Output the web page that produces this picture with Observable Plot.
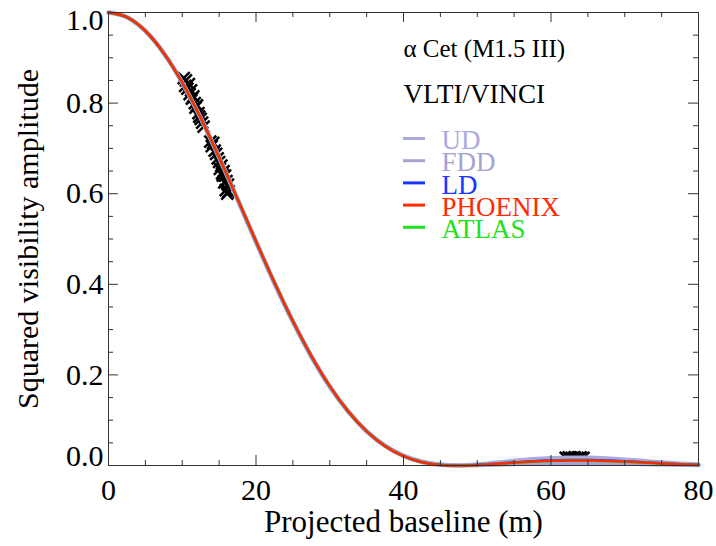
<!DOCTYPE html>
<html><head><meta charset="utf-8">
<script src="https://cdn.jsdelivr.net/npm/d3@7"></script>
<script src="https://cdn.jsdelivr.net/npm/@observablehq/plot@0.6"></script>
<style>
html,body{margin:0;padding:0;background:#fff}
#chart{width:716px;height:546px}
</style>
</head><body><div id="chart"></div>
<script>
// Model curves: projected baseline (m) and squared visibility
const baselineM = [0,2.5,5,7.5,10,12.5,15,17.5,20,22.5,25,27.5,30,32.5,35,37.5,40,42.5,45,47.5,50,52.5,55,57.5,60,62.5,65,67.5,70,72.5,75,77.5,80];
const udV2 = [1,0.9896,0.9592,0.9101,0.8449,0.7669,0.6796,0.5871,0.4932,0.4022,0.3171,0.2405,0.1740,0.1190,0.0755,0.0433,0.0212,0.0078,0.0014,0.0001,0.0021,0.0059,0.0101,0.0137,0.0162,0.0173,0.0169,0.0153,0.0128,0.0098,0.0068,0.0041,0.0021];
const fddV2 = [1,0.9897,0.9594,0.9104,0.8455,0.7680,0.6812,0.5890,0.4953,0.4042,0.3190,0.2422,0.1755,0.1200,0.0762,0.0438,0.0220,0.0088,0.0022,0.0001,0.0005,0.0016,0.0029,0.0041,0.0049,0.0053,0.0052,0.0047,0.0039,0.0030,0.0021,0.0013,0.0007];
const ldV2 = [1,0.9896,0.9592,0.9102,0.8452,0.7674,0.6803,0.5882,0.4944,0.4035,0.3184,0.2414,0.1746,0.1192,0.0754,0.0430,0.0209,0.0075,0.0013,0.0000,0.0013,0.0039,0.0068,0.0093,0.0111,0.0120,0.0119,0.0110,0.0093,0.0072,0.0050,0.0030,0.0015];
const phoenixV2 = [1,0.9896,0.9592,0.9102,0.8452,0.7675,0.6805,0.5885,0.4948,0.4040,0.3190,0.2420,0.1752,0.1195,0.0755,0.0428,0.0205,0.0072,0.0011,0.0000,0.0012,0.0036,0.0063,0.0087,0.0104,0.0112,0.0111,0.0102,0.0086,0.0066,0.0045,0.0027,0.0013];
const atlasV2 = [1,0.9896,0.9592,0.9102,0.8452,0.7675,0.6804,0.5884,0.4947,0.4039,0.3189,0.2419,0.1751,0.1194,0.0754,0.0428,0.0206,0.0073,0.0012,0.0000,0.0011,0.0035,0.0061,0.0084,0.0100,0.0108,0.0107,0.0098,0.0083,0.0064,0.0044,0.0026,0.0013];

// VLTI/VINCI measurements
const obsBaseline = [10.2,10.4,10.5,10.7,10.9,11.0,11.2,11.3,11.5,11.7,11.8,12.0,12.2,12.3,12.5,12.7,12.9,
  13.8,14.0,14.2,14.4,14.6,14.8,15.0,15.1,15.3,15.4,15.5,15.6,15.7,15.8,15.9,16.0,16.1,16.2,16.3,
  62.0,62.4,62.8,63.2,63.6,64.0,64.4];
const obsV2 = [0.855,0.838,0.850,0.832,0.842,0.820,0.828,0.810,0.815,0.800,0.790,0.795,0.778,0.770,0.765,0.757,0.748,
  0.715,0.705,0.712,0.695,0.688,0.678,0.670,0.655,0.662,0.645,0.640,0.650,0.625,0.640,0.608,0.628,0.600,0.620,0.605,
  0.017,0.018,0.017,0.018,0.017,0.018,0.017];

const models = ["UD","FDD","LD","PHOENIX","ATLAS"];
const modelColors = ["#aaaadd","#a4a4d2","#1a35ff","#ff2a00","#22e022"];
const xMajorTicks = [0,20,40,60,80];
const xMinorTicks = [5,10,15,25,30,35,45,50,55,65,70,75];
const yMajorTicks = [0,0.2,0.4,0.6,0.8,1.0];
const yMinorTicks = [0.05,0.1,0.15,0.25,0.3,0.35,0.45,0.5,0.55,0.65,0.7,0.75,0.85,0.9,0.95];

const W = 716, H = 546, mL = 108, mR = 18, mT = 12, mB = 81;
const pw = W - mL - mR, ph = H - mT - mB;

const table = (vals) => baselineM.map((b, i) => ({b, v: vals[i]}));
const obs = obsBaseline.map((b, i) => ({b, v: obsV2[i]}));
const font = "'Liberation Serif', 'Times New Roman', serif";
const axisStroke = "#333";
const yFmt = d3.format(".1f");

const lineOpts = (color, w) => ({x: "b", y: "v", stroke: color, strokeWidth: w, curve: "monotone-x"});
const yAxis = (ticks, dy) => Plot.axisY({ticks, tickSize: 0, tickPadding: 5, tickFormat: yFmt, label: null, fontSize: 30, dy});

const chart = Plot.plot({
  width: W, height: H,
  marginLeft: mL, marginRight: mR, marginTop: mT, marginBottom: mB,
  style: {fontFamily: font, fontSize: "26px", background: "#fff", color: "#000"},
  x: {domain: [0, 80]},
  y: {domain: [0, 1]},
  marks: [
    Plot.dot(obs, {x: "b", y: "v", symbol: "times", r: 5.5, stroke: "#000", strokeWidth: 2.5}),
    Plot.line(table(udV2), lineOpts(modelColors[0], 4.5)),
    Plot.line(table(fddV2), lineOpts(modelColors[1], 4)),
    Plot.line(table(ldV2), lineOpts(modelColors[2], 2.5)),
    Plot.line(table(atlasV2), lineOpts(modelColors[4], 2.5)),
    Plot.line(table(phoenixV2), lineOpts(modelColors[3], 2.5)),
    Plot.frame({stroke: axisStroke}),
    // inward ticks on all four sides
    Plot.ruleX(xMajorTicks, {insetTop: ph - 10, stroke: axisStroke}),
    Plot.ruleX(xMinorTicks, {insetTop: ph - 5, stroke: axisStroke}),
    Plot.ruleX(xMajorTicks, {insetBottom: ph - 10, stroke: axisStroke}),
    Plot.ruleX(xMinorTicks, {insetBottom: ph - 5, stroke: axisStroke}),
    Plot.ruleY(yMajorTicks, {insetRight: pw - 10, stroke: axisStroke}),
    Plot.ruleY(yMinorTicks, {insetRight: pw - 5, stroke: axisStroke}),
    Plot.ruleY(yMajorTicks, {insetLeft: pw - 10, stroke: axisStroke}),
    Plot.ruleY(yMinorTicks, {insetLeft: pw - 5, stroke: axisStroke}),
    Plot.axisX({ticks: xMajorTicks, tickSize: 0, tickPadding: 13, tickFormat: d => String(d), label: null, fontSize: 30}),
    yAxis(yMajorTicks.slice(1, 5), 0),
    yAxis([yMajorTicks[5]], 8),
    yAxis([yMajorTicks[0]], -9),
    Plot.text(["Projected baseline (m)"], {frameAnchor: "bottom", dy: 57, textAnchor: "middle", lineAnchor: "middle", fontSize: 31}),
    Plot.text(["Squared visibility amplitude"], {frameAnchor: "left", dx: -80, rotate: -90, textAnchor: "middle", lineAnchor: "middle", fontSize: 30}),
    Plot.text(["α Cet (M1.5 III)"], {frameAnchor: "top-left", dx: 295, dy: 27, textAnchor: "start", lineAnchor: "top", fontSize: 25}),
    Plot.text(["VLTI/VINCI"], {frameAnchor: "top-left", dx: 295, dy: 71, textAnchor: "start", lineAnchor: "top", fontSize: 27, letterSpacing: "1px"}),
    ...models.map((m, i) => Plot.text([m], {frameAnchor: "top-left", dx: 333, dy: 117.5 + 22.2 * i, textAnchor: "start", lineAnchor: "top", fill: modelColors[i], fontSize: 27}))
  ]
});

// legend swatches (layout only)
const svg = d3.select(chart);
models.forEach((m, i) => {
  const y = mT + 126.5 + 22.2 * i;
  svg.append("line")
    .attr("x1", mL + 295).attr("x2", mL + 317)
    .attr("y1", y).attr("y2", y)
    .attr("stroke", modelColors[i]).attr("stroke-width", 3);
});

document.getElementById("chart").appendChild(chart);
</script>
</body></html>
